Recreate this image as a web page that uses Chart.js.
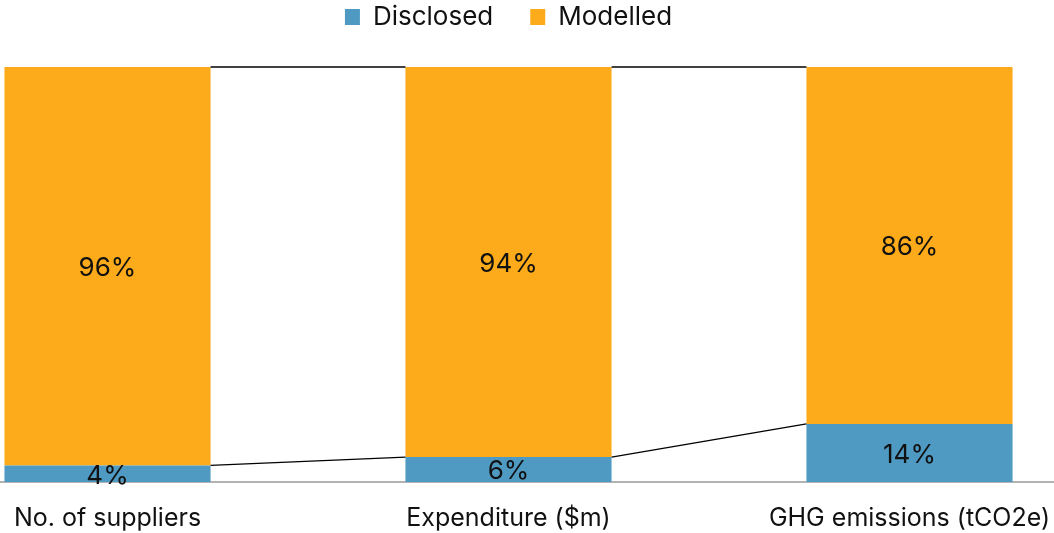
<!DOCTYPE html>
<html>
<head>
<meta charset="utf-8">
<script src="https://cdn.jsdelivr.net/npm/chart.js@4/dist/chart.umd.min.js"></script>
<style>
  html, body { margin: 0; padding: 0; background: #ffffff; overflow: hidden; width: 1054px; height: 533px; }
  #wrap { position: absolute; left: -93px; top: 0; width: 1203px; height: 533px; }
</style>
</head>
<body>
<div id="wrap"><canvas id="c"></canvas></div>
<script>
const categories = ["No. of suppliers", "Expenditure ($m)", "GHG emissions (tCO2e)"];
const seriesNames = ["Disclosed", "Modelled"];
const disclosed = [4, 6, 14];
const modelled = [96, 94, 86];
const seriesColors = ["#4F9AC2", "#FDAB1A"];

const FONT = "Inter, Roboto, sans-serif";

const legendFitPlugin = {
  id: 'legendFit',
  beforeInit(chart) {
    const originalFit = chart.legend.fit;
    chart.legend.fit = function fit() {
      originalFit.bind(chart.legend)();
      this.height = 67;
    };
  },
  afterLayout(chart) {
    const l = chart.legend;
    const shift = 33;
    l.top -= shift;
    l.bottom -= shift;
  }
};

const seriesLinesPlugin = {
  id: 'seriesLines',
  afterDatasetsDraw(chart) {
    const ctx = chart.ctx;
    ctx.save();
    ctx.strokeStyle = '#000000';
    ctx.lineWidth = 1.3;
    chart.data.datasets.forEach((ds, di) => {
      const meta = chart.getDatasetMeta(di);
      for (let i = 0; i < meta.data.length - 1; i++) {
        const a = meta.data[i], b = meta.data[i + 1];
        ctx.beginPath();
        ctx.moveTo(a.x + a.width / 2, a.y);
        ctx.lineTo(b.x - b.width / 2, b.y);
        ctx.stroke();
      }
    });
    ctx.restore();
  }
};

const labelsPlugin = {
  id: 'barLabels',
  afterDatasetsDraw(chart) {
    const ctx = chart.ctx;
    ctx.save();
    ctx.font = "26px " + FONT;
    ctx.fillStyle = '#111111';
    ctx.textAlign = 'center';
    ctx.textBaseline = 'middle';
    chart.data.datasets.forEach((ds, di) => {
      const meta = chart.getDatasetMeta(di);
      meta.data.forEach((el, i) => {
        const cy = (el.y + el.base) / 2;
        ctx.fillText(ds.data[i] + '%', el.x, cy + 2);
      });
    });
    ctx.restore();
  }
};

new Chart(document.getElementById('c'), {
  type: 'bar',
  data: {
    labels: categories,
    datasets: [
      { label: seriesNames[0], data: disclosed, backgroundColor: seriesColors[0], borderWidth: 0 },
      { label: seriesNames[1], data: modelled, backgroundColor: seriesColors[1], borderWidth: 0 }
    ]
  },
  options: {
    responsive: true,
    maintainAspectRatio: false,
    animation: false,
    barPercentage: 0.514,
    categoryPercentage: 1.0,
    layout: { padding: 0 },
    plugins: {
      legend: {
        position: 'top',
        labels: {
          font: { family: FONT, size: 26 },
          color: '#111111',
          boxWidth: 15,
          boxHeight: 16,
          padding: 37
        }
      },
      tooltip: { enabled: false }
    },
    scales: {
      x: {
        stacked: true,
        afterFit(scale) { scale.height = 51; },
        grid: { display: true, drawOnChartArea: false, drawTicks: false, color: 'rgba(0,0,0,0)' },
        border: { display: true, color: '#b3b3b3', width: 2 },
        ticks: { font: { family: FONT, size: 25 }, color: '#111111', padding: 21, maxRotation: 0, autoSkip: false }
      },
      y: {
        stacked: true,
        display: false,
        min: 0,
        max: 100
      }
    }
  },
  plugins: [legendFitPlugin, seriesLinesPlugin, labelsPlugin]
});
</script>
</body>
</html>
